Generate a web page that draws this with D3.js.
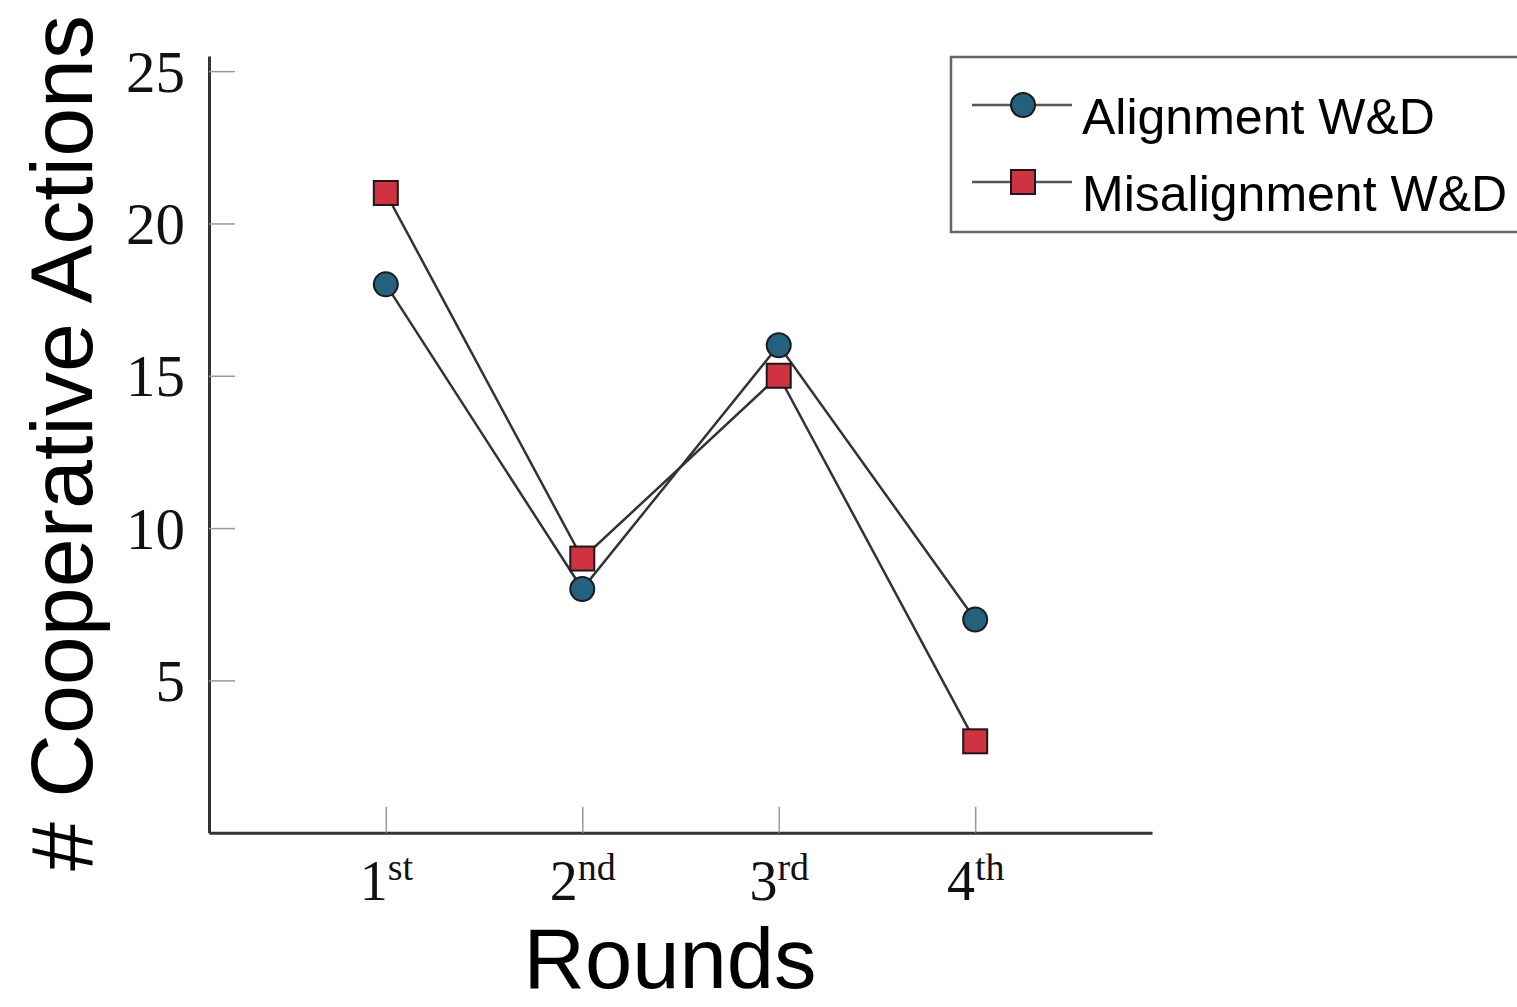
<!DOCTYPE html>
<html>
<head>
<meta charset="utf-8">
<script src="https://cdn.jsdelivr.net/npm/d3@7"></script>
<style>
  html, body { margin: 0; padding: 0; background: #fff; }
  svg { display: block; }
</style>
</head>
<body>
<svg id="chart" width="1517" height="1007"></svg>
<script>
const rounds = [1, 2, 3, 4];
const roundNums = ["1", "2", "3", "4"];
const roundSups = ["st", "nd", "rd", "th"];
const alignment = [18, 8, 16, 7];
const misalignment = [21, 9, 15, 3];
const yTicks = [5, 10, 15, 20, 25];
const seriesNames = ["Alignment W&D", "Misalignment W&D"];

const svg = d3.select("#chart");
const x = d3.scaleLinear().domain([0.1, 4.9]).range([209, 1152]);
const y = d3.scaleLinear().domain([0, 25.5]).range([832.7, 55.9]);

const serif = "'Liberation Serif', 'Times New Roman', serif";
const sans = "'Liberation Sans', Arial, Helvetica, sans-serif";

// Y axis
const yAxis = svg.append("g").attr("transform", `translate(${x(0.1)},0)`)
  .call(d3.axisLeft(y).tickValues(yTicks).tickSizeInner(-26).tickSizeOuter(0).tickPadding(24));
yAxis.select(".domain").attr("stroke", "#333").attr("stroke-width", 3);
yAxis.selectAll(".tick line").attr("stroke", "#999").attr("stroke-width", 1.5);
yAxis.selectAll(".tick text").attr("font-family", serif).attr("font-size", 59).attr("fill", "#111").attr("dy", "0.34em");

// X axis
const xAxis = svg.append("g").attr("transform", `translate(0,${y(0)})`)
  .call(d3.axisBottom(x).tickValues(rounds).tickSizeInner(-26).tickSizeOuter(0).tickFormat(() => ""));
xAxis.select(".domain").attr("stroke", "#333").attr("stroke-width", 3);
xAxis.selectAll(".tick line").attr("stroke", "#999").attr("stroke-width", 1.5);
xAxis.selectAll(".tick text").each(function(d, i) {
  const t = d3.select(this);
  t.text(null).attr("y", 67).attr("dy", 0).attr("font-family", serif).attr("font-size", 56).attr("fill", "#111");
  t.append("tspan").text(roundNums[i]);
  t.append("tspan").attr("font-size", 38).attr("dy", -20).text(roundSups[i]);
});

// Lines
const line = d3.line().x((d, i) => x(rounds[i])).y(d => y(d));
[alignment, misalignment].forEach(s => {
  svg.append("path").datum(s).attr("d", line)
    .attr("fill", "none").attr("stroke", "#333").attr("stroke-width", 2.5);
});

const circleFill = "#23617f";
const squareFill = "#cf3342";
const markStroke = "#1a1a1a";

svg.append("g").selectAll("circle").data(alignment).join("circle")
  .attr("cx", (d, i) => x(rounds[i])).attr("cy", d => y(d)).attr("r", 12)
  .attr("fill", circleFill).attr("stroke", markStroke).attr("stroke-width", 2);

svg.append("g").selectAll("rect").data(misalignment).join("rect")
  .attr("x", (d, i) => x(rounds[i]) - 12).attr("y", d => y(d) - 12)
  .attr("width", 24).attr("height", 24)
  .attr("fill", squareFill).attr("stroke", markStroke).attr("stroke-width", 2);

// Axis titles
svg.append("text").attr("transform", "translate(92,443) rotate(-90)")
  .attr("text-anchor", "middle").attr("font-family", sans).attr("font-size", 88)
  .attr("fill", "#000").text("# Cooperative Actions");

svg.append("text").attr("x", 670).attr("y", 988)
  .attr("text-anchor", "middle").attr("font-family", sans).attr("font-size", 85)
  .attr("fill", "#000").text("Rounds");

// Legend
const lg = svg.append("g");
lg.append("rect").attr("x", 951).attr("y", 57).attr("width", 620).attr("height", 175)
  .attr("fill", "#fff").attr("stroke", "#666").attr("stroke-width", 2.5);
const legendY = [105, 182];
seriesNames.forEach((name, i) => {
  lg.append("line").attr("x1", 972).attr("x2", 1072).attr("y1", legendY[i]).attr("y2", legendY[i])
    .attr("stroke", "#555").attr("stroke-width", 2.5);
  if (i === 0) {
    lg.append("circle").attr("cx", 1023).attr("cy", legendY[i]).attr("r", 12)
      .attr("fill", circleFill).attr("stroke", markStroke).attr("stroke-width", 2);
  } else {
    lg.append("rect").attr("x", 1011).attr("y", legendY[i] - 12).attr("width", 24).attr("height", 24)
      .attr("fill", squareFill).attr("stroke", markStroke).attr("stroke-width", 2);
  }
  lg.append("text").attr("x", 1082).attr("y", legendY[i] + 29)
    .attr("font-family", sans).attr("font-size", 50).attr("fill", "#000").text(name);
});
</script>
</body>
</html>
